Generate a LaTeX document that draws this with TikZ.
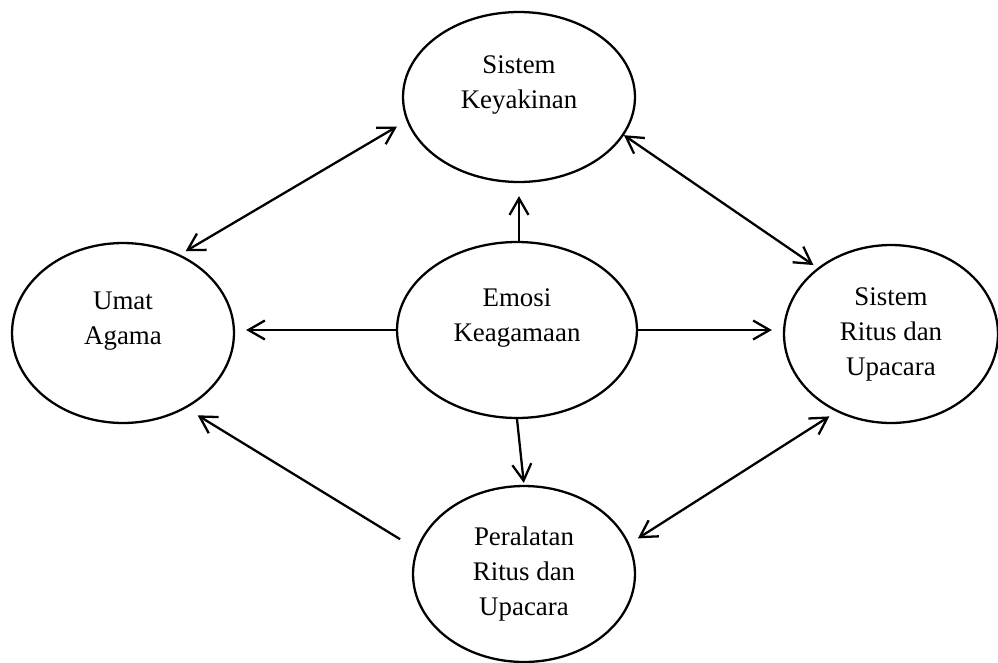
\documentclass[tikz,border=0pt]{standalone}
\usepackage{fontspec}
\setmainfont{Liberation Serif}
\usetikzlibrary{shapes.geometric,arrows.meta}

\begin{document}
\begin{tikzpicture}[x=0.02cm, y=-0.02cm, >={Straight Barb[length=0.33cm,width=0.38cm]},
        ovalnode/.style={ellipse, draw=black, line width=1.3pt, inner sep=0pt, align=center, font=\fontsize{15.3pt}{19.9pt}\selectfont},
        twoline/.style={text depth=17pt},
        link/.style={line width=1.3pt}]
        \useasboundingbox (0,0) rectangle (998,663);
        \node[ovalnode,twoline, minimum width=4.64cm, minimum height=3.40cm] (keyakinan) at (519,97) {Sistem\\Keyakinan};
        \node[ovalnode,twoline, minimum width=4.44cm, minimum height=3.60cm] (umat) at (123,333) {Umat\\Agama};
        \node[ovalnode,twoline, minimum width=4.80cm, minimum height=3.52cm] (emosi) at (517,330) {Emosi\\Keagamaan};
        \node[ovalnode, minimum width=4.28cm, minimum height=3.56cm] (ritus) at (891,334) {Sistem\\Ritus dan\\Upacara};
        \node[ovalnode, minimum width=4.44cm, minimum height=3.52cm] (peralatan) at (524,574) {Peralatan\\Ritus dan\\Upacara};
        \draw[link,->,shorten >=0.26cm] (emosi.north -| keyakinan.south) -- (keyakinan.south);
        \draw[link,->,shorten >=0.22cm] (emosi.west) -- (umat.east |- emosi.west);
        \draw[link,->,shorten >=0.22cm] (emosi.east) -- (ritus.west |- emosi.east);
        \draw[link,->,shorten >=0.04cm] (emosi.south) -- (peralatan.north);
        \draw[link,<->,shorten <=0.22cm,shorten >=0.13cm] (keyakinan.192) -- (umat.54);
        \draw[link,<->,shorten >=0.10cm] (keyakinan.340) -- (ritus.138);
        \draw[link,->,shorten <=0.38cm,shorten >=0.27cm] (peralatan.167) -- (umat.310);
        \draw[link,<->,shorten <=0.17cm,shorten >=0.20cm] (ritus.235) -- (peralatan.16);
\end{tikzpicture}
\end{document}
